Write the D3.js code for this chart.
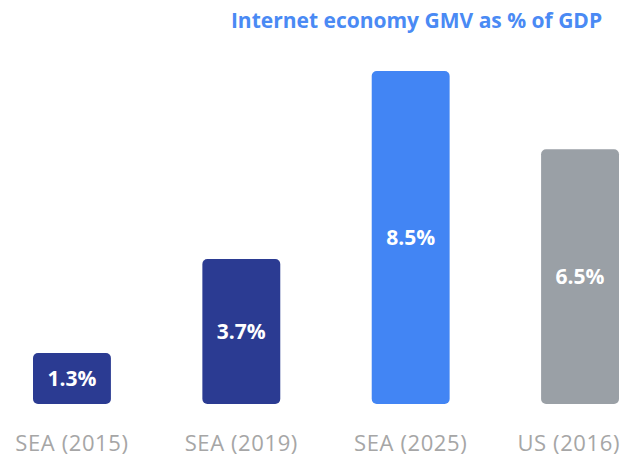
<!DOCTYPE html>
<html>
<head>
<meta charset="utf-8">
<script src="https://cdn.jsdelivr.net/npm/d3@7"></script>
<style>
  html, body { margin: 0; padding: 0; background: #fff; }
  svg { display: block; }
</style>
</head>
<body>
<svg id="chart" width="625" height="457"></svg>
<script>
const categories = ["SEA (2015)", "SEA (2019)", "SEA (2025)", "US (2016)"];
const values = [1.3, 3.7, 8.5, 6.5];
const valueLabels = ["1.3%", "3.7%", "8.5%", "6.5%"];
const barColors = ["#2b3b92", "#2b3b92", "#4285f4", "#9aa0a6"];
const title = "Internet economy GMV as % of GDP";

const svg = d3.select("#chart");
const W = 625;
const baseY = 404;

const x = d3.scaleBand().domain(categories).range([33, 619]).paddingInner(0.54).paddingOuter(0);
const y = d3.scaleLinear().domain([0, 8.5]).range([baseY, 71]);

const data = categories.map((c, i) => ({ c, v: values[i], label: valueLabels[i], color: barColors[i] }));

svg.append("text")
  .attr("x", 416.5).attr("y", 28)
  .attr("text-anchor", "middle")
  .attr("font-family", "'Open Sans', sans-serif")
  .attr("font-weight", 700)
  .attr("font-size", 21)
  .attr("fill", "#4a8af4")
  .text(title);

svg.selectAll("rect.bar").data(data).enter().append("rect")
  .attr("class", "bar")
  .attr("x", d => x(d.c))
  .attr("y", d => y(d.v))
  .attr("width", x.bandwidth())
  .attr("height", d => baseY - y(d.v))
  .attr("rx", 5).attr("ry", 5)
  .attr("fill", d => d.color);

svg.selectAll("text.val").data(data).enter().append("text")
  .attr("class", "val")
  .attr("x", d => x(d.c) + x.bandwidth() / 2)
  .attr("y", d => (y(d.v) + baseY) / 2)
  .attr("dy", "0.36em")
  .attr("text-anchor", "middle")
  .attr("font-family", "'Open Sans', sans-serif")
  .attr("font-weight", 700)
  .attr("font-size", 21)
  .attr("fill", "#ffffff")
  .text(d => d.label);

svg.selectAll("text.cat").data(data).enter().append("text")
  .attr("class", "cat")
  .attr("y", 451)
  .attr("text-anchor", "middle")
  .attr("font-family", "'Open Sans', sans-serif")
  .attr("font-size", 22)
  .attr("letter-spacing", 0.6)
  .attr("fill", "#a6a6a6")
  .text(d => d.c)
  .attr("x", function(d) {
    const cx = x(d.c) + x.bandwidth() / 2;
    const w = this.getComputedTextLength();
    const maxRight = W - 5;
    return Math.min(cx, maxRight - w / 2);
  });
</script>
</body>
</html>
